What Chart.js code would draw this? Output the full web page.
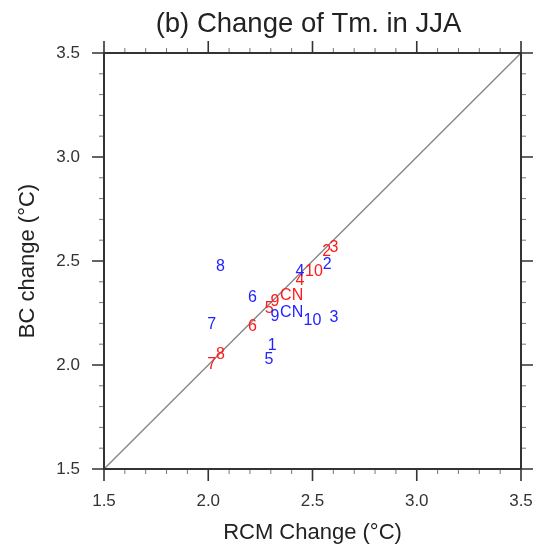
<!DOCTYPE html>
<html>
<head>
<meta charset="utf-8">
<script src="https://cdn.jsdelivr.net/npm/chart.js@4.4.1/dist/chart.umd.min.js"></script>
<style>
html,body{margin:0;padding:0;background:#fff;}
#wrap{width:537px;height:547px;}
</style>
</head>
<body>
<div id="wrap"><canvas id="c" width="537" height="547"></canvas></div>
<script>
// ---- data ----
const titleText = "(b) Change of Tm. in JJA";
const xTitle = "RCM Change (\u00B0C)";
const yTitle = "BC change (\u00B0C)";
const axisRange = [1.5, 3.5];
const majorStep = 0.5;
const minorStep = 0.1;
const diagonal = [1.5, 3.5];

const redLabels = ['7','8','6','5','9','CN','4','10','2','3'];
const redX      = [2.016, 2.059, 2.212, 2.292, 2.320, 2.400, 2.440, 2.507, 2.568, 2.603];
const redY      = [2.001, 2.050, 2.186, 2.269, 2.306, 2.333, 2.407, 2.450, 2.546, 2.563];

const blueLabels = ['1','2','3','4','5','6','7','8','9','10','CN'];
const blueX      = [2.307, 2.571, 2.603, 2.440, 2.291, 2.212, 2.016, 2.059, 2.320, 2.500, 2.400];
const blueY      = [2.093, 2.482, 2.226, 2.450, 2.025, 2.322, 2.194, 2.471, 2.231, 2.214, 2.250];

const FONT = "'Liberation Sans', Arial, Helvetica, sans-serif";

function pts(xs, ys){ return xs.map((x,i)=>({x:x, y:ys[i]})); }

const textLabels = {
  id:'textLabels',
  afterDatasetsDraw(chart){
    const ctx = chart.ctx;
    ctx.save();
    ctx.font = "16px " + FONT;
    ctx.textAlign = 'center';
    ctx.textBaseline = 'middle';
    chart.data.datasets.forEach((ds, di)=>{
      if(!ds.textLabels) return;
      const meta = chart.getDatasetMeta(di);
      ctx.fillStyle = ds.textColor;
      meta.data.forEach((el, i)=>{
        ctx.fillText(ds.textLabels[i], el.x, el.y);
      });
    });
    ctx.restore();
  }
};

const frameTicks = {
  id:'frameTicks',
  afterDraw(chart){
    const ctx = chart.ctx;
    const a = chart.chartArea;
    const xs = chart.scales.x, ys = chart.scales.y;
    ctx.save();
    const n = Math.round((axisRange[1]-axisRange[0])/minorStep);
    for(let i=0;i<=n;i++){
      const v = axisRange[0] + i*minorStep;
      const major = Math.abs(v/majorStep - Math.round(v/majorStep)) < 1e-6;
      const len = major ? 12 : 5;
      ctx.lineWidth = major ? 1.6 : 1;
      ctx.strokeStyle = major ? '#333' : '#777';
      const px = xs.getPixelForValue(v);
      const py = ys.getPixelForValue(v);
      ctx.beginPath();
      ctx.moveTo(px, a.bottom); ctx.lineTo(px, a.bottom+len);
      ctx.moveTo(px, a.top); ctx.lineTo(px, a.top-len);
      ctx.moveTo(a.left, py); ctx.lineTo(a.left-len, py);
      ctx.moveTo(a.right, py); ctx.lineTo(a.right+len, py);
      ctx.stroke();
    }
    ctx.lineWidth = 2;
    ctx.strokeStyle = '#333';
    ctx.strokeRect(a.left, a.top, a.right-a.left, a.bottom-a.top);
    ctx.fillStyle = '#222';
    ctx.font = "27.5px " + FONT;
    ctx.textAlign = 'center';
    ctx.textBaseline = 'alphabetic';
    ctx.fillText(titleText, (a.left+a.right)/2 - 4, 32);
    ctx.restore();
  }
};

new Chart(document.getElementById('c'), {
  type:'scatter',
  data:{
    datasets:[
      {type:'line', data:pts(diagonal, diagonal), borderColor:'#8a8a8a', borderWidth:1.5, pointRadius:0, fill:false, order:3},
      {data:pts(redX, redY), pointRadius:0, textLabels:redLabels, textColor:'#ff1a1a'},
      {data:pts(blueX, blueY), pointRadius:0, textLabels:blueLabels, textColor:'#2323ff'}
    ]
  },
  options:{
    responsive:false,
    animation:false,
    layout:{padding:{top:53, right:16, left:0, bottom:0}},
    plugins:{legend:{display:false}, tooltip:{enabled:false}, title:{display:false}},
    scales:{
      x:{
        type:'linear', min:axisRange[0], max:axisRange[1],
        border:{display:false},
        grid:{display:false, drawTicks:false},
        ticks:{stepSize:majorStep, padding:22, color:'#333', font:{family:FONT, size:17},
               callback:(v)=>v.toFixed(1), maxRotation:0},
        title:{display:true, text:xTitle, color:'#222', font:{family:FONT, size:22}, padding:{top:0,bottom:1}},
        afterFit:(s)=>{ s.height = 78; s.paddingLeft = 0; s.paddingRight = 0; }
      },
      y:{
        type:'linear', min:axisRange[0], max:axisRange[1],
        border:{display:false},
        grid:{display:false, drawTicks:false},
        ticks:{stepSize:majorStep, padding:24, color:'#333', font:{family:FONT, size:17},
               callback:(v)=>v.toFixed(1)},
        title:{display:true, text:yTitle, color:'#222', font:{family:FONT, size:22}, padding:{top:15,bottom:0}},
        afterFit:(s)=>{ s.width = 104; s.paddingTop = 0; s.paddingBottom = 0; }
      }
    }
  },
  plugins:[textLabels, frameTicks]
});
</script>
</body>
</html>
